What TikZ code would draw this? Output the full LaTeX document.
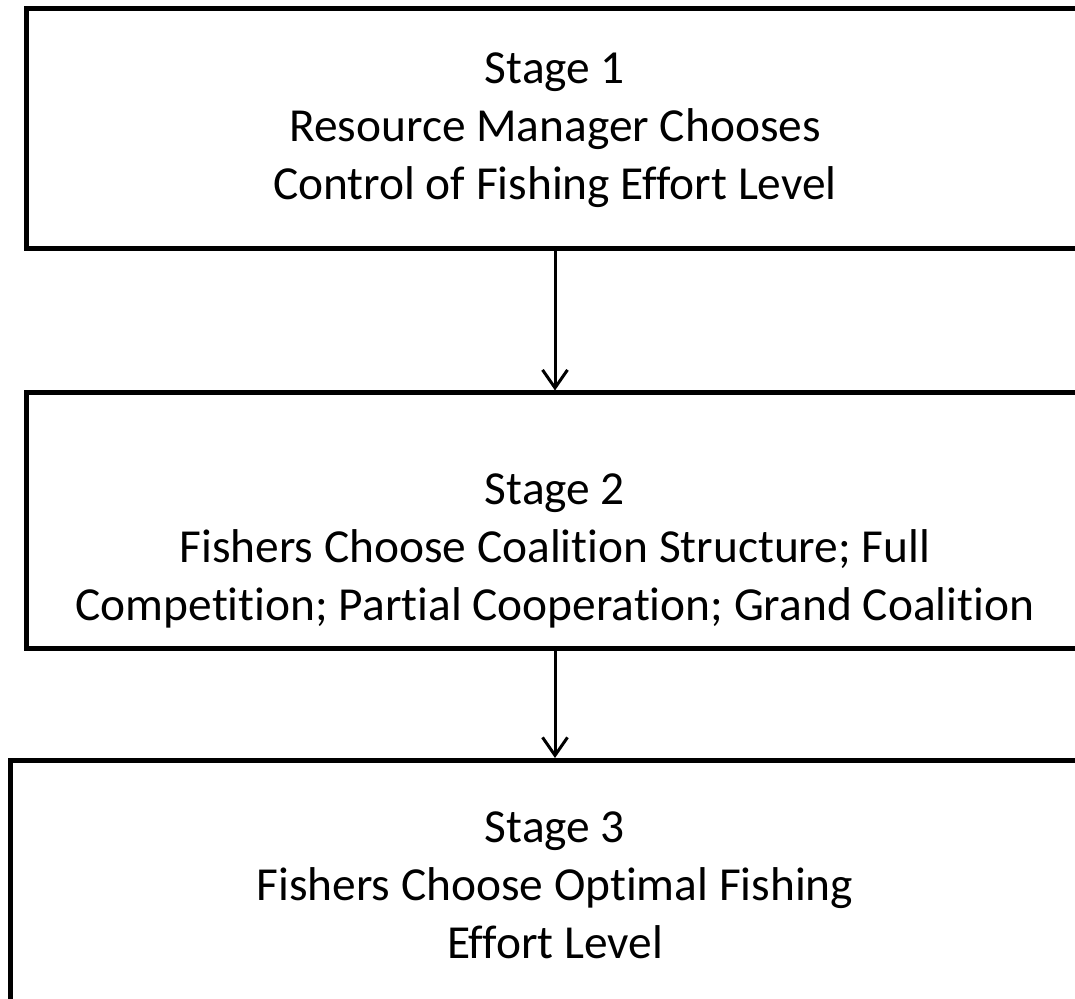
\documentclass[tikz,border=0pt]{standalone}
\usepackage{fontspec}
\setmainfont[Ligatures={NoCommon}]{Carlito}
\usetikzlibrary{arrows.meta}
\begin{document}
\begin{tikzpicture}[x=1pt,y=1pt,
  stagebox/.style={draw=black, line width=5pt, fill=white, inner sep=0pt},
  stagetext/.style={align=center, inner sep=0pt, font=\fontsize{47.4}{58}\selectfont},
  flow/.style={line width=3pt, -{Straight Barb[length=18pt,width=25pt,line width=3pt]}}]
\useasboundingbox (0,0) rectangle (1075,998);
\clip (0,0) rectangle (1075,998);
\node[stagebox, minimum width=1057pt, minimum height=240pt] (s1) at (555,869.5) {};
\node[stagetext] (t1) at ([yshift=-2pt]s1.center)
  {Stage 1\\Resource Manager Chooses\\Control of Fishing Effort Level};
\node[stagebox, minimum width=1057pt, minimum height=255.5pt] (s2) at (555,477.25) {};
\node[stagetext] (t2) at ([yshift=-30pt]s2.center)
  {Stage 2\\Fishers Choose Coalition Structure; Full\\Competition; Partial Cooperation; Grand Coalition};
\node[stagebox, minimum width=1090pt, minimum height=249.5pt] (s3) at (555,112.75) {};
\node[stagetext] (t3) at (s3.center)
  {Stage 3\\Fishers Choose Optimal Fishing\\Effort Level};
\draw[flow] (s1.south) -- (s2.north);
\draw[flow] (s2.south) -- (s3.north);
\end{tikzpicture}
\end{document}
